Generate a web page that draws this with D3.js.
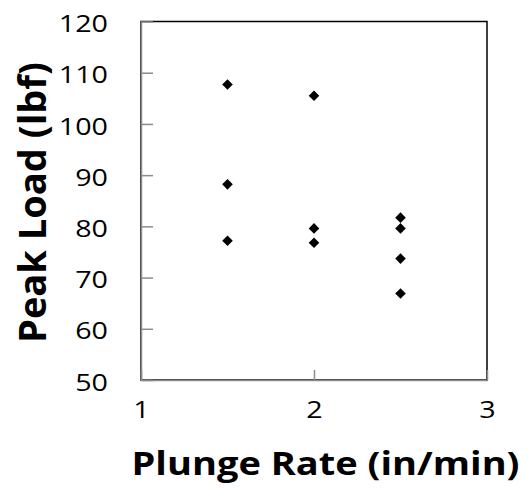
<!DOCTYPE html>
<html><head><meta charset="utf-8">
<script src="https://cdn.jsdelivr.net/npm/d3@7"></script>
<style>html,body{margin:0;padding:0;background:#fff;} svg{display:block;}</style>
</head><body>
<svg id="chart" width="530" height="492"></svg>
<script>
const plungeRate = [1.5, 1.5, 1.5, 2, 2, 2, 2.5, 2.5, 2.5, 2.5];
const peakLoad   = [107.7, 88.2, 77.2, 105.5, 79.6, 76.8, 81.7, 79.6, 73.7, 66.9];
const xTicks = [1, 2, 3];
const yTicks = [50, 60, 70, 80, 90, 100, 110, 120];
const xTitle = "Plunge Rate (in/min)";
const yTitle = "Peak Load (lbf)";

const svg = d3.select("#chart");
const L = 141, R = 487, T = 21.5, B = 380;
const x = d3.scaleLinear().domain([1, 3]).range([L, R]);
const y = d3.scaleLinear().domain([50, 120]).range([B, T]);
const font = "'Open Sans', 'Liberation Sans', sans-serif";
const gray = "#8c8c8c";
const fmt = d3.format("d");

// plot border
svg.append("rect").attr("x", L).attr("y", T).attr("width", R - L).attr("height", B - T)
  .attr("fill", "none").attr("stroke", "#000").attr("stroke-width", 1.5);

// y axis
const gy = svg.append("g").attr("transform", `translate(${L},0)`)
  .call(d3.axisLeft(y).tickValues(yTicks).tickFormat(fmt).tickSizeInner(-12).tickSizeOuter(0).tickPadding(33));
gy.select(".domain").attr("stroke", gray).attr("stroke-width", 1.5);
gy.selectAll(".tick line").attr("stroke", gray).attr("stroke-width", 1.5);
gy.selectAll(".tick text").attr("font-family", font).attr("font-size", 24).attr("fill", "#000")
  .attr("dy", "0.42em")
  .attr("textLength", d => fmt(d).length * 16.4).attr("lengthAdjust", "spacingAndGlyphs");

// x axis
const gx = svg.append("g").attr("transform", `translate(0,${B})`)
  .call(d3.axisBottom(x).tickValues(xTicks).tickFormat(fmt).tickSizeInner(-10).tickSizeOuter(0).tickPadding(38));
gx.select(".domain").attr("stroke", gray).attr("stroke-width", 1.5);
gx.selectAll(".tick line").attr("stroke", gray).attr("stroke-width", 1.5);
gx.selectAll(".tick text").attr("font-family", font).attr("font-size", 24).attr("fill", "#000")
  .attr("dy", "0em")
  .attr("textLength", d => fmt(d).length * 16.4).attr("lengthAdjust", "spacingAndGlyphs");

// points
const pts = plungeRate.map((v, i) => ({x: v, y: peakLoad[i]}));
svg.append("g").selectAll("path").data(pts).join("path")
  .attr("d", d3.symbol(d3.symbolSquare, 56))
  .attr("transform", d => `translate(${x(d.x)},${y(d.y)}) rotate(45)`)
  .attr("fill", "#000");

// titles
svg.append("text").attr("x", 131.5).attr("y", 475)
  .attr("font-family", font).attr("font-weight", 700).attr("font-size", 32)
  .attr("textLength", 388).attr("lengthAdjust", "spacingAndGlyphs")
  .text(xTitle);

svg.append("text")
  .attr("transform", "translate(45.5,343) rotate(-90) scale(1,1.18)")
  .attr("x", 0).attr("y", 0)
  .attr("font-family", font).attr("font-weight", 700).attr("font-size", 32)
  .attr("textLength", 281).attr("lengthAdjust", "spacingAndGlyphs")
  .text(yTitle);
</script>
</body></html>
